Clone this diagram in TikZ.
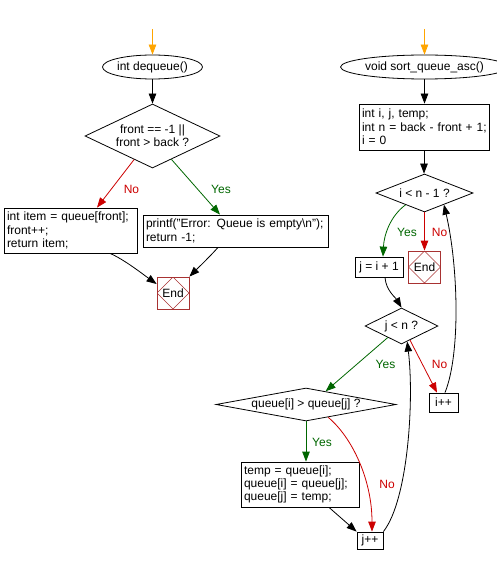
\documentclass[tikz,border=0pt]{standalone}
\usepackage{fontspec}
\setmainfont{Liberation Sans}
\usetikzlibrary{shapes.geometric,arrows.meta}
\definecolor{orng}{HTML}{FFA500}
\definecolor{noc}{HTML}{CC0000}
\definecolor{yesc}{HTML}{006600}
\definecolor{endc}{HTML}{A83232}
\begin{document}
\begin{tikzpicture}[x=1pt,y=-1pt,
  every node/.style={font=\fontsize{12}{13.3}\selectfont},
  arr/.style={line width=0.8pt,-{Triangle[length=10pt,width=7.5pt]}},
  startov/.style={ellipse,draw,line width=0.8pt,inner sep=0pt},
  dec/.style={diamond,draw,line width=0.8pt,inner sep=0pt,align=center},
  proc/.style={rectangle,draw,line width=0.8pt,inner sep=0pt,inner xsep=3pt,align=left},
  endbox/.style={rectangle,draw=endc,line width=0.8pt,minimum size=32pt,inner sep=0pt,
    path picture={\draw[endc,line width=0.6pt] (path picture bounding box.north) -- (path picture bounding box.east) -- (path picture bounding box.south) -- (path picture bounding box.west) -- cycle;}},
  lbl/.style={inner sep=0pt},
]
\useasboundingbox (0,0) rectangle (497,564);

% left flow
\coordinate (s1) at (152.5,29);
\node[startov,minimum width=89pt,minimum height=24pt] (e1) at (152.5,67) {int dequeue()};
\node[dec,minimum width=135pt,minimum height=64pt,aspect=2.1] (d1) at (152.5,136) {front == -1 ||\\front > back ?};
\node[proc,minimum width=133pt,minimum height=45pt,text width=127pt] (b1) at (70.5,230.5) {\mbox{int item = queue[front];}\\front++;\\return item;};
\node[proc,minimum width=185pt,minimum height=32pt,text width=179pt] (b2) at (235.5,231) {\mbox{printf("Error: Queue is empty\textbackslash n");}\\return -1;};
\node[endbox] (end1) at (173,293) {End};

\draw[arr,orng] (s1) -- (e1.north);
\draw[arr] (e1.south) -- (d1.north);
\draw[arr,noc] (d1.-128) -- ([xshift=26.5pt]b1.north);
\draw[arr,yesc] (d1.-51) -- ([xshift=-15.5pt]b2.north);
\draw[arr] ([xshift=39.5pt]b1.south) .. controls +(14,6) and +(-14,-10) .. ([yshift=9pt]end1.west);
\draw[arr] ([xshift=-17.5pt]b2.south) .. controls +(-6,7) and +(8,-8) .. (end1.north east);
\node[lbl,text=noc] (l1) at (131.5,189) {No};
\node[lbl,text=yesc] (l2) at (221,189) {Yes};

% right flow
\coordinate (s2) at (424.5,29);
\node[startov,minimum width=141pt,minimum height=24pt] (e2) at (424.5,67) {void sort\_queue\_asc()};
\node[proc,minimum width=130pt,minimum height=46pt,text width=124pt] (b3) at (424,127) {\mbox{int i, j, temp;}\\\mbox{int n = back - front + 1;}\\i = 0};
\node[dec,minimum width=97pt,minimum height=38pt,aspect=2.55] (d2) at (424.5,193) {i < n - 1 ?};
\node[endbox] (end2) at (424.5,267) {End};
\node[proc,minimum width=48pt,minimum height=20pt] (b4) at (379,267) {j = i + 1};
\node[dec,minimum width=73pt,minimum height=36pt,aspect=2.03] (d3) at (401.5,326) {j < n ?};
\node[proc,minimum width=29pt,minimum height=19pt] (b5) at (443.5,402.5) {i++};
\node[dec,minimum width=180pt,minimum height=33pt,aspect=5.45] (d4) at (306,404.5) {queue[i] > queue[j] ?};
\node[proc,minimum width=118pt,minimum height=45pt,text width=112pt] (b6) at (300,484.5) {\mbox{temp = queue[i];}\\\mbox{queue[i] = queue[j];}\\\mbox{queue[j] = temp;}};
\node[proc,minimum width=26pt,minimum height=17pt] (b7) at (370,540.5) {j++};

\draw[arr,orng] (s2) -- (e2.north);
\draw[arr] (e2.south) -- (e2.south |- b3.north);
\draw[arr] (b3.south) -- (b3.south |- d2.north);
\draw[arr,noc] (d2.south) -- (end2.north);
\draw[arr,yesc] (d2.-148) .. controls +(-15,11) and +(1,-22) .. ([xshift=4pt]b4.north);
\draw[arr] ([xshift=6pt]b4.south) .. controls +(1,13) and +(-6,-10) .. (d3.north);
\draw[arr,noc] (d3.-59) -- ([xshift=-6.5pt]b5.north);
\draw[arr] ([xshift=1.5pt]b5.north) .. controls +(16,-40) and +(14,60) .. (d2.-31);
\draw[arr,yesc] (d3.-140) -- (d4.34);
\draw[arr,yesc] (d4.south) -- (d4.south |- b6.north);
\draw[arr,noc] (d4.-30) .. controls +(24,20) and +(0,-52) .. ([xshift=2pt]b7.north);
\draw[arr] ([xshift=29pt]b6.south) -- (b7.north west);
\draw[arr] (b7.north east) .. controls +(25,-32) and +(7,57) .. (d3.-70);

\node[lbl,text=yesc] (l3) at (407,232) {Yes};
\node[lbl,text=noc] (l4) at (439.5,232) {No};
\node[lbl,text=yesc] (l5) at (385.5,364) {Yes};
\node[lbl,text=noc] (l6) at (439.5,364) {No};
\node[lbl,text=yesc] (l7) at (322,442) {Yes};
\node[lbl,text=noc] (l8) at (387,484) {No};
\end{tikzpicture}
\end{document}
